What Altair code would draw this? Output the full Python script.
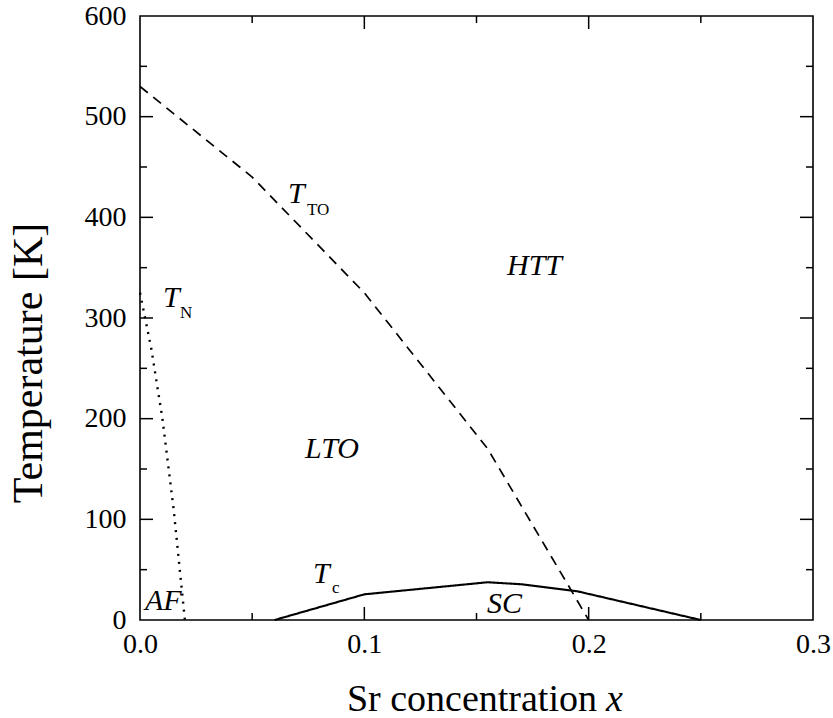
import altair as alt
import pandas as pd

# Phase boundaries of La(2-x)Sr(x)CuO4
tto_x = [0.0, 0.05, 0.10, 0.155, 0.20]
tto_t = [530, 440, 325, 170, 0]

tn_x = [0.0, 0.005, 0.010, 0.015, 0.020]
tn_t = [325, 270, 200, 110, 0]

tc_x = [0.06, 0.10, 0.155, 0.17, 0.195, 0.25]
tc_t = [0, 25.5, 37.5, 35.5, 28.5, 0]

# Axis ticks
x_major = [0.1, 0.2]
x_minor = [0.05, 0.15, 0.25]
y_major = [100, 200, 300, 400, 500]
y_minor = [50, 150, 250, 350, 450, 550]
x_labels = [0.0, 0.1, 0.2, 0.3]
y_labels = [0, 100, 200, 300, 400, 500, 600]

# Region / curve labels (italic) and subscripts (upright)
main_text = ["T", "T", "T", "HTT", "LTO", "AF", "SC"]
main_x = [0.066, 0.0103, 0.0771, 0.1636, 0.0736, 0.0022, 0.1547]
main_t = [414, 311, 36.8, 342.7, 161, 10, 7]
sub_text = ["TO", "N", "c"]
sub_x = [0.0744, 0.0178, 0.0856]
sub_t = [402, 300, 26.8]

W, H = 673, 604
FONT = "'Liberation Serif', 'Times New Roman', Times, 'DejaVu Serif', serif"

xs = alt.Scale(domain=[0, 0.3], nice=False, zero=False)
ys = alt.Scale(domain=[0, 600], nice=False, zero=False)
x_axis = alt.Axis(values=x_labels, format=".1f", title=None, ticks=False, domain=False,
                  grid=False, labelFlush=False, labelFont=FONT, labelFontSize=28,
                  labelColor="black", labelPadding=10, tickSize=0)
y_axis = alt.Axis(values=y_labels, format="d", title=None, ticks=False, domain=False,
                  grid=False, labelFlush=False, labelFont=FONT, labelFontSize=28,
                  labelColor="black", labelPadding=14, tickSize=0)


def X(field):
    return alt.X(f"{field}:Q", scale=xs, axis=x_axis)


def Y(field):
    return alt.Y(f"{field}:Q", scale=ys, axis=y_axis)


def curve(xv, tv, dash, width):
    df = pd.DataFrame({"x": xv, "t": tv, "i": range(len(xv))})
    return alt.Chart(df).mark_line(color="black", strokeWidth=width, strokeDash=dash).encode(
        x=X("x"), y=Y("t"), order="i:Q")


tto = curve(tto_x, tto_t, [10, 7], 1.7)
tn = curve(tn_x, tn_t, [2, 6], 2.4)
tc = curve(tc_x, tc_t, [1, 0], 2.1)


def xticks(vals, length):
    df = pd.DataFrame({"x": vals})
    base = alt.Chart(df).mark_rule(color="black", strokeWidth=1.5)
    bottom = base.encode(x=X("x"), y=alt.value(H), y2=alt.value(H - length))
    top = base.encode(x=X("x"), y=alt.value(0), y2=alt.value(length))
    return bottom + top


def yticks(vals, length):
    df = pd.DataFrame({"t": vals})
    base = alt.Chart(df).mark_rule(color="black", strokeWidth=1.5)
    left = base.encode(y=Y("t"), x=alt.value(0), x2=alt.value(length))
    right = base.encode(y=Y("t"), x=alt.value(W), x2=alt.value(W - length))
    return left + right


ticks = xticks(x_major, 13) + xticks(x_minor, 7) + yticks(y_major, 13) + yticks(y_minor, 7)

labels_main = alt.Chart(pd.DataFrame({"x": main_x, "t": main_t, "s": main_text})).mark_text(
    font=FONT, fontSize=30, fontStyle="italic", align="left", baseline="alphabetic", color="black"
).encode(x=X("x"), y=Y("t"), text="s:N")

labels_sub = alt.Chart(pd.DataFrame({"x": sub_x, "t": sub_t, "s": sub_text})).mark_text(
    font=FONT, fontSize=17, align="left", baseline="alphabetic", color="black"
).encode(x=X("x"), y=Y("t"), text="s:N")

# Axis titles
title_df = pd.DataFrame({"s": ["Sr concentration"]})
xtitle = alt.Chart(title_df).mark_text(
    font=FONT, fontSize=38, align="right", baseline="alphabetic", color="black"
).encode(x=alt.value(457), y=alt.value(695), text="s:N")
xtitle_var = alt.Chart(pd.DataFrame({"s": ["x"]})).mark_text(
    font=FONT, fontSize=38, fontStyle="italic", align="left", baseline="alphabetic", color="black"
).encode(x=alt.value(466), y=alt.value(695), text="s:N")
ytitle = alt.Chart(pd.DataFrame({"s": ["Temperature  [K]"]})).mark_text(
    font=FONT, fontSize=42, angle=270, align="center", baseline="middle", color="black"
).encode(x=alt.value(-111), y=alt.value(347), text="s:N")

chart = alt.layer(
    ticks, tto, tn, tc, labels_main, labels_sub, xtitle, xtitle_var, ytitle
).properties(
    width=W, height=H,
    autosize=alt.AutoSizeParams(type="none"),
    padding={"left": 140, "top": 16, "right": 20, "bottom": 98},
    background="white",
).configure_view(stroke="black", strokeWidth=1.6)

chart.save("out.html", embed_options={"renderer": "svg", "actions": False})
